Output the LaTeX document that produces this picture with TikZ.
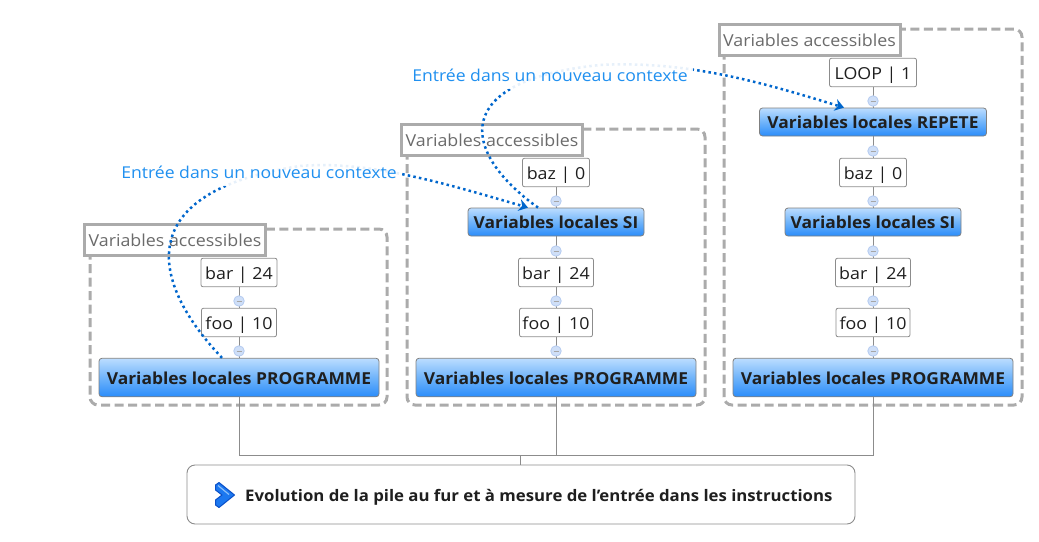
\documentclass[tikz,border=0pt]{standalone}
\usepackage{fontspec}
\setmainfont{Open Sans}[FakeStretch=1.08,BoldFeatures={FakeStretch=1.055}]
\usetikzlibrary{arrows.meta,calc}
\definecolor{framegray}{HTML}{ABABAB}
\definecolor{edgegray}{HTML}{8C8C8C}
\definecolor{curveblue}{HTML}{0066CC}
\definecolor{labelblue}{HTML}{2090F0}
\definecolor{boxtop}{HTML}{BCDDFF}
\definecolor{boxmid}{HTML}{70B4FA}
\definecolor{boxbot}{HTML}{2A8CFA}
\definecolor{knobfill}{HTML}{CFDFF8}
\definecolor{knobedge}{HTML}{B4CBF0}
\definecolor{iconfill}{HTML}{1C78F0}
\definecolor{iconedge}{HTML}{0A50C8}
\definecolor{iconhi}{HTML}{8CC0FA}
\tikzset{
  frame/.style={draw=framegray,line width=3pt,dash pattern=on 9pt off 4.5pt,rounded corners=8pt},
  titlebox/.style={draw=framegray,line width=3pt,fill=white,text=black!58,font=\fontsize{16.5}{18}\selectfont,minimum width=181pt,minimum height=31pt,inner sep=0pt,outer sep=0pt,anchor=north west,text height=13pt,text depth=1pt},
  valbox/.style={draw=edgegray,line width=.8pt,fill=white,rounded corners=2pt,text=black!88,font=\fontsize{16.5}{18}\selectfont,minimum height=28.5pt,inner sep=0pt,text height=14.6pt,text depth=1pt},
  bluebox/.style={draw=black!50,line width=.8pt,rounded corners=3pt,top color=boxtop,bottom color=boxbot,middle color=boxmid,text=black!88,font=\bfseries\fontsize{16.5}{18}\selectfont,inner sep=0pt,text height=14pt,text depth=1pt},
  tie/.style={draw=edgegray,line width=.9pt},
  knob/.style={circle,draw=knobedge,fill=knobfill,line width=.8pt,minimum size=10.5pt,inner sep=0pt,
    path picture={\draw[black!35,line width=.6pt] ($(path picture bounding box.center)+(-2.5pt,0)$) -- ($(path picture bounding box.center)+(2.5pt,0)$);}},
  jump/.style={draw=curveblue,line width=2.5pt,dash pattern=on 2.5pt off 3.2pt},
  jumptip/.style={-{Stealth[length=9pt,width=12pt]}},
  ctxlabel/.style={text=labelblue,fill=white,fill opacity=.9,text opacity=1,font=\fontsize{16.3}{18}\selectfont,inner xsep=5pt,inner ysep=0pt,minimum height=26pt,text height=13pt,text depth=3pt}
}
\begin{document}
\begin{tikzpicture}[x=1pt,y=-1pt]
\useasboundingbox (0,0) rectangle (1039,541);
% frames
\draw[frame] (90,229) rectangle (387,405);
\draw[frame] (407,129) rectangle (705,405);
\draw[frame] (724,29) rectangle (1022,405);
% title boxes
\node[titlebox] (ta) at (84.5,224.5) {Variables accessibles};
\node[titlebox] (tb) at (401.5,124.5) {Variables accessibles};
\node[titlebox] (tc) at (719,24.5) {Variables accessibles};
% left stack
\node[valbox,minimum width=76pt] (abar) at (239,272.5) {bar | 24};
\node[valbox,minimum width=75pt] (afoo) at (239,322.5) {foo | 10};
\node[bluebox,minimum width=280pt,minimum height=38.5pt] (aprog) at (239,377.5) {Variables locales PROGRAMME};
% middle stack
\node[valbox,minimum width=67pt] (bbaz) at (556,172.5) {baz | 0};
\node[bluebox,minimum width=176pt,minimum height=28pt] (bsi) at (556,222) {Variables locales SI};
\node[valbox,minimum width=75pt] (bbar) at (556,272.5) {bar | 24};
\node[valbox,minimum width=73pt] (bfoo) at (556,322.5) {foo | 10};
\node[bluebox,minimum width=280pt,minimum height=38.5pt] (bprog) at (556,377.5) {Variables locales PROGRAMME};
% right stack
\node[valbox,minimum width=87pt] (cloop) at (873,72.5) {LOOP | 1};
\node[bluebox,minimum width=227pt,minimum height=28pt] (crep) at (873,122) {Variables locales REPETE};
\node[valbox,minimum width=67pt] (cbaz) at (873,172.5) {baz | 0};
\node[bluebox,minimum width=176pt,minimum height=28pt] (csi) at (873,222) {Variables locales SI};
\node[valbox,minimum width=75pt] (cbar) at (873,272.5) {bar | 24};
\node[valbox,minimum width=74pt] (cfoo) at (873,322.5) {foo | 10};
\node[bluebox,minimum width=280pt,minimum height=38.5pt] (cprog) at (873,377.5) {Variables locales PROGRAMME};
% root
\node[draw=edgegray,line width=.9pt,fill=white,rounded corners=8pt,minimum width=668pt,minimum height=59pt,inner sep=0pt] (root) at (521,494.5) {};
\node[anchor=west,inner sep=0pt,text=black!88,font=\bfseries\fontsize{15.9}{18}\selectfont,text height=14pt,text depth=1pt] (roottext) at (245,495) {Evolution de la pile au fur et à mesure de l'entrée dans les instructions};
\draw[draw=iconedge,line width=1pt,fill=iconfill,line join=round]
  (215.5,485) -- (219,482.5) -- (234.5,495) -- (219,507.5) -- (215.5,505) -- (215.5,500) -- (222,495) -- (215.5,490) -- cycle;
\draw[iconhi,line width=1.2pt] (218,485.5) -- (229,494.5);
% ties
\draw[tie] (abar) -- (afoo);
\draw[tie] (afoo) -- (aprog);
\draw[tie] (bbaz) -- (bsi);
\draw[tie] (bsi) -- (bbar);
\draw[tie] (bbar) -- (bfoo);
\draw[tie] (bfoo) -- (bprog);
\draw[tie] (cloop) -- (crep);
\draw[tie] (crep) -- (cbaz);
\draw[tie] (cbaz) -- (csi);
\draw[tie] (csi) -- (cbar);
\draw[tie] (cbar) -- (cfoo);
\draw[tie] (cfoo) -- (cprog);
\coordinate (rail) at (520,455);
\draw[tie] (aprog.south) |- (rail);
\draw[tie] (cprog.south) |- (rail);
\draw[tie] (bprog.south) -- (bprog.south |- rail);
\draw[tie] (rail) -- (root.north -| rail);
% knobs
\node[knob] (k1) at (239,301) {};
\node[knob] (k2) at (239,351) {};
\node[knob] (k3) at (556,201) {};
\node[knob] (k4) at (556,251) {};
\node[knob] (k5) at (556,301) {};
\node[knob] (k6) at (556,351) {};
\node[knob] (k7) at (873,101) {};
\node[knob] (k8) at (873,151) {};
\node[knob] (k9) at (873,201) {};
\node[knob] (k10) at (873,251) {};
\node[knob] (k11) at (873,301) {};
\node[knob] (k12) at (873,351) {};
% curves
\coordinate (s1) at ($(aprog.north)+(-17,0)$);
\coordinate (e1) at ($(bsi.north)+(-28,0)$);
\coordinate (s2) at ($(bsi.north)+(-18,0)$);
\coordinate (e2) at ($(crep.north)+(-29,0)$);
\draw[jump,jumptip] (s1) .. controls (150,282) and (130,192) .. (300,166) .. controls (370,160) and (450,185) .. (e1);
\draw[jump,jumptip] (s2) .. controls (458,150) and (452,80) .. (600,65) .. controls (690,60) and (770,85) .. (e2);
% labels
\node[ctxlabel] (l1) at (259,173) {Entrée dans un nouveau contexte};
\node[ctxlabel] (l2) at (550,76) {Entrée dans un nouveau contexte};
\end{tikzpicture}
\end{document}
